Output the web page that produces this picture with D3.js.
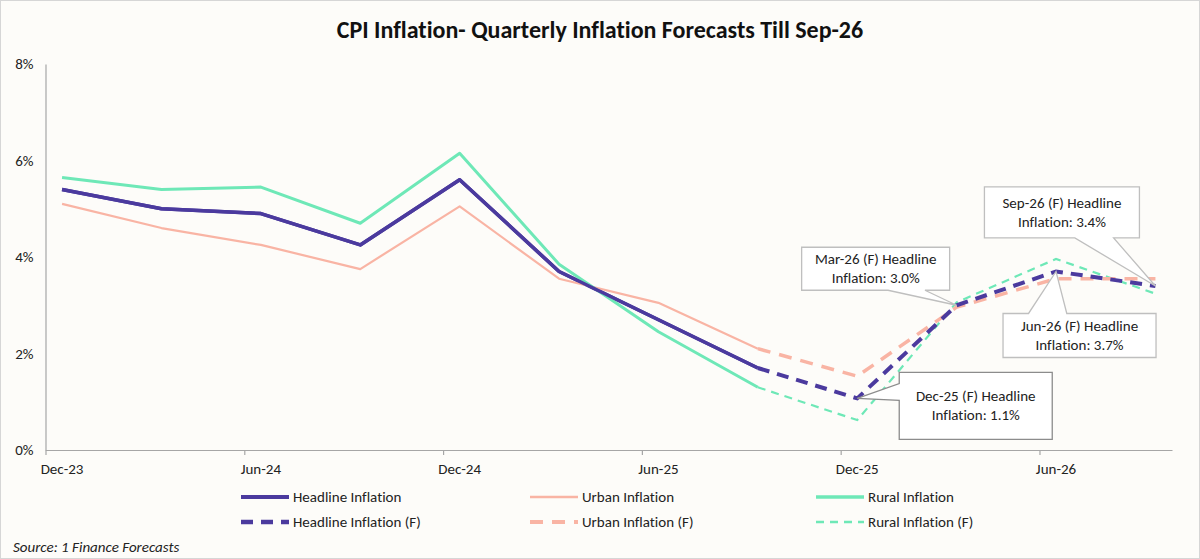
<!DOCTYPE html>
<html>
<head>
<meta charset="utf-8">
<script src="https://cdn.jsdelivr.net/npm/d3@7"></script>
<style>
  html, body { margin: 0; padding: 0; background: #fff; }
  svg { display: block; font-family: Carlito, Calibri, Lato, sans-serif;
        font-variant-ligatures: none; font-feature-settings: "liga" 0; }
</style>
</head>
<body>
<div id="chart"></div>
<script>
// ---- data ----
const quarters = ["Dec-23", "Mar-24", "Jun-24", "Sep-24", "Dec-24", "Mar-25",
                  "Jun-25", "Sep-25", "Dec-25", "Mar-26", "Jun-26", "Sep-26"];
const headline = [5.4, 5.0, 4.9, 4.25, 5.6, 3.7, 2.7, 1.7, 1.07, 3.0, 3.7, 3.4];
const urban    = [5.1, 4.6, 4.25, 3.75, 5.05, 3.55, 3.05, 2.1, 1.53, 2.96, 3.55, 3.55];
const rural    = [5.65, 5.4, 5.45, 4.7, 6.15, 3.85, 2.45, 1.3, 0.62, 3.06, 3.96, 3.24];
const firstForecast = 8;          // Dec-25 onward is forecast
const yTicks = [0, 2, 4, 6, 8];
const xLabels = ["Dec-23", "Jun-24", "Dec-24", "Jun-25", "Dec-25", "Jun-26"];

const series = [
  { name: "Headline Inflation", values: headline, color: "#4b3a9e", w: 3.5, fw: 4,   dash: "12,8" },
  { name: "Urban Inflation",    values: urban,    color: "#f9b4a4", w: 2.2, fw: 3.5, dash: "13,9" },
  { name: "Rural Inflation",    values: rural,    color: "#6ee8b7", w: 3,   fw: 2.2, dash: "8,6" }
];

// callouts on headline forecasts: box offset from the tip, wedge side and
// wedge base as fractions of that side (Excel wedgeRectCallout style)
const callouts = [
  { q: "Dec-25", lines: ["Dec-25 (F) Headline", "Inflation: 1.1%"], box: [42, -26, 195, 41], side: "left",   base: [2/12, 5/12], stroke: "#8c8c8c" },
  { q: "Mar-26", lines: ["Mar-26 (F) Headline", "Inflation: 3.0%"], box: [-155, -58, -7, -15], side: "bottom", base: [7/12, 10/12], stroke: "#bfbfbf" },
  { q: "Jun-26", lines: ["Jun-26 (F) Headline", "Inflation: 3.7%"], box: [-53, 42, 100, 86], side: "top",    base: [2/12, 5/12], stroke: "#bfbfbf" },
  { q: "Sep-26", lines: ["Sep-26 (F) Headline", "Inflation: 3.4%"], box: [-171, -99, -16, -48], side: "bottom", base: [7/12, 10/12], stroke: "#bfbfbf" }
];

// ---- canvas ----
const W = 1200, H = 559;
const FS = "15px";
const svg = d3.select("#chart").append("svg")
  .attr("width", W).attr("height", H)
  .attr("viewBox", `0 0 ${W} ${H}`);

svg.append("rect")
  .attr("x", 0.5).attr("y", 0.5).attr("width", W - 1).attr("height", H - 1)
  .attr("fill", "#fdfcf9").attr("stroke", "#d6d6d6");

svg.append("text")
  .attr("x", 600).attr("y", 38)
  .attr("text-anchor", "middle")
  .style("font-size", "24px").style("font-weight", "bold").style("fill", "#111")
  .text("CPI Inflation- Quarterly Inflation Forecasts Till Sep-26");

// month index axis: each quarter sits in the middle of its month slot
const monthOf = q => quarters.indexOf(q) * 3;
const x = d3.scaleLinear().domain([-0.5, 33.5]).range([45.5, 1172]);
const y = d3.scaleLinear().domain([0, 8]).range([450, 64]);

// y axis: line + labels only
const yAxis = svg.append("g").attr("transform", "translate(45.5,0)")
  .call(d3.axisLeft(y).tickValues(yTicks).tickSize(0).tickPadding(12)
    .tickFormat(d => d + "%"));
yAxis.select(".domain").attr("stroke", "#a6a6a6").attr("stroke-width", 1.2);

// x axis: ticks every 6 months between slots, labels on the quarter points
const xAxis = svg.append("g").attr("transform", "translate(0,450)")
  .call(d3.axisBottom(x).tickValues(d3.range(-0.5, 34, 6)).tickSize(5)
    .tickSizeOuter(0).tickFormat(""));
xAxis.select(".domain").attr("stroke", "#a6a6a6").attr("stroke-width", 1.2);
xAxis.selectAll(".tick line").attr("stroke", "#a6a6a6").attr("stroke-width", 1.2);

svg.append("g").selectAll("text").data(xLabels).join("text")
  .attr("x", d => x(monthOf(d))).attr("y", 474)
  .attr("text-anchor", "middle")
  .style("font-size", FS).style("fill", "#222")
  .text(d => d);

svg.selectAll(".tick text").style("font-size", FS).style("fill", "#222")
  .style("font-family", "Carlito, Calibri, Lato, sans-serif");

// ---- lines ----
const line = d3.line()
  .x(d => x(d.m)).y(d => y(d.v));

series.forEach(s => {
  const pts = s.values.map((v, i) => ({ m: i * 3, v, i }));
  svg.append("path")
    .datum(pts.filter(p => p.i < firstForecast))
    .attr("d", line).attr("fill", "none")
    .attr("stroke", s.color).attr("stroke-width", s.w)
    .attr("stroke-linejoin", "round");
});
// draw forecasts in reverse so headline sits on top
series.slice().reverse().forEach(s => {
  const pts = s.values.map((v, i) => ({ m: i * 3, v, i }));
  svg.append("path")
    .datum(pts.filter(p => p.i >= firstForecast - 1))
    .attr("d", line).attr("fill", "none")
    .attr("stroke", s.color).attr("stroke-width", s.fw)
    .attr("stroke-dasharray", s.dash);
});
// headline solid on top of the others
svg.append("path")
  .datum(headline.map((v, i) => ({ m: i * 3, v, i })).filter(p => p.i < firstForecast))
  .attr("d", line).attr("fill", "none")
  .attr("stroke", series[0].color).attr("stroke-width", series[0].w)
  .attr("stroke-linejoin", "round");

// ---- callouts ----
function calloutPath(x0, y0, x1, y1, side, base, tx, ty) {
  const w = x1 - x0, h = y1 - y0;
  const p = [];
  p.push([x0, y0]);
  if (side === "top") { p.push([x0 + w * base[0], y0], [tx, ty], [x0 + w * base[1], y0]); }
  p.push([x1, y0], [x1, y1]);
  if (side === "bottom") { p.push([x0 + w * base[1], y1], [tx, ty], [x0 + w * base[0], y1]); }
  p.push([x0, y1]);
  if (side === "left") { p.push([x0, y0 + h * base[1]], [tx, ty], [x0, y0 + h * base[0]]); }
  return "M" + p.map(d => d.join(",")).join("L") + "Z";
}

callouts.forEach(c => {
  const i = quarters.indexOf(c.q);
  const tx = x(i * 3), ty = y(headline[i]);
  const [dx0, dy0, dx1, dy1] = c.box;
  const x0 = tx + dx0, y0 = ty + dy0, x1 = tx + dx1, y1 = ty + dy1;
  const g = svg.append("g");
  g.append("path")
    .attr("d", calloutPath(x0, y0, x1, y1, c.side, c.base, tx, ty))
    .attr("fill", "#ffffff").attr("stroke", c.stroke).attr("stroke-width", 1.3);
  const cy = (y0 + y1) / 2;
  g.selectAll("text").data(c.lines).join("text")
    .attr("x", (x0 + x1) / 2)
    .attr("y", (d, k) => cy + (k - 0.5) * 19 + 5)
    .attr("text-anchor", "middle")
    .style("font-size", FS).style("fill", "#222")
    .text(d => d);
});

// ---- legend ----
const legendCols = [241, 530, 816];
const legend = svg.append("g");
series.forEach((s, k) => {
  const lx = legendCols[k];
  legend.append("line")
    .attr("x1", lx).attr("x2", lx + 48).attr("y1", 497).attr("y2", 497)
    .attr("stroke", s.color).attr("stroke-width", s.w + 0.5);
  legend.append("text")
    .attr("x", lx + 52).attr("y", 502)
    .style("font-size", FS).style("fill", "#222").text(s.name);
  legend.append("line")
    .attr("x1", lx).attr("x2", lx + 48).attr("y1", 522).attr("y2", 522)
    .attr("stroke", s.color).attr("stroke-width", s.fw + 0.5)
    .attr("stroke-dasharray", s.dash);
  legend.append("text")
    .attr("x", lx + 52).attr("y", 527)
    .style("font-size", FS).style("fill", "#222").text(s.name + " (F)");
});

svg.append("text")
  .attr("x", 13).attr("y", 552)
  .style("font-size", FS).style("font-style", "italic").style("fill", "#222")
  .text("Source: 1 Finance Forecasts");
</script>
</body>
</html>
